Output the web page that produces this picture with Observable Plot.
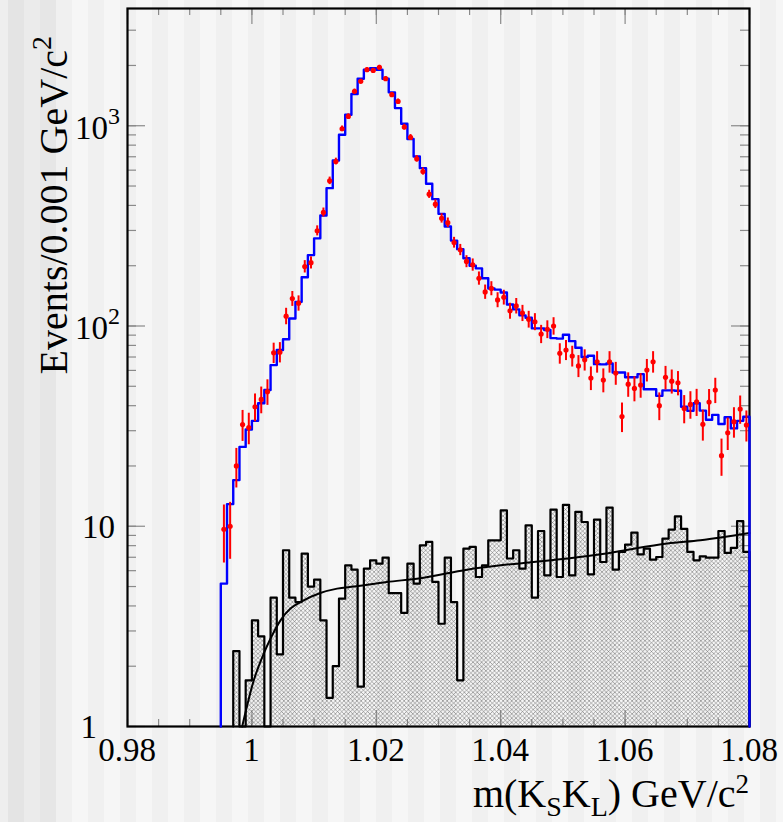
<!DOCTYPE html>
<html><head><meta charset="utf-8">
<script src="https://cdn.jsdelivr.net/npm/d3@7"></script>
<script src="https://cdn.jsdelivr.net/npm/@observablehq/plot@0.6"></script>
<style>
html,body{margin:0;padding:0;}
body{width:783px;height:822px;overflow:hidden;position:relative;
 background-color:#f6f6f6;
 background-image:linear-gradient(90deg,#f0f0f0 0,#f0f0f0 50%,#f6f6f6 50%,#f6f6f6 100%);
 background-size:32px 100%; background-position:24px 0;}
#leftband{position:absolute;left:0;top:0;width:56px;height:822px;
 background:linear-gradient(90deg,#eeeeee 0,#eeeeee 8px,#e4e4e4 8px,#e4e4e4 24px,#ebebeb 24px,#ebebeb 40px,#e6e6e6 40px,#e6e6e6 56px);}
#chart{position:absolute;left:0;top:0;}
</style></head><body><div id="leftband"></div><div id="chart"></div>
<script>
// ---- data ----
const binWidth = 0.001;
const xDomain = [0.98, 1.08];
const yDomain = [1, 3850];
const xMajorTicks = [0.98, 1.0, 1.02, 1.04, 1.06, 1.08];
const xTickLabels = ["0.98", "1", "1.02", "1.04", "1.06", "1.08"];
const yMajorTicks = [1, 10, 100, 1000];
const yTickBase = ["1", "10", "10", "10"];
const yTickExp = ["", "", "2", "3"];

// MC (blue histogram), bins of 0.001 starting at 0.995
const mcStart = 0.995;
const mcCounts = [5.17, 12.9, 17.0, 24.9, 30.4, 33.6, 41.1, 47.9, 63.8, 75.9,
  85.8, 109, 132, 175, 226, 274, 356, 488, 671, 902,
  1135, 1440, 1718, 1905, 1940, 1905, 1718, 1468, 1225, 1023,
  858, 702, 614, 513, 430, 363, 314, 267, 242, 218,
  200, 194, 173, 154, 152, 147, 128, 121, 113, 110,
  97.3, 97.3, 95.5, 87.0, 86.5, 90.4, 84.0, 77.9, 70.0, 71.0,
  64.5, 64.3, 65.0, 58.6, 58.6, 55.5, 55.5, 57.5, 48.3, 48.3,
  44.8, 47.7, 47.7, 47.5, 39.5, 37.7, 41.1, 37.8, 34.0, 36.0,
  32.4, 35.0, 30.8, 33.6, 35.2];

// Data (red points), bin centres starting at 0.9955
const dataStart = 0.995;
const dataCounts = [9.66, 10.0, 20.0, 32.2, 31.1, 39.5, 43.0, 47.0, 73.5, 74.0,
  112, 137, 130, 198, 207, 299, 369, 531, 663, 966,
  1113, 1485, 1666, 1905, 1890, 1958, 1718, 1429, 1323, 985,
  874, 684, 591, 455, 406, 345, 328, 261, 240, 210,
  202, 173, 148, 154, 135, 139, 119, 126, 116, 108,
  105, 91.2, 96.3, 100, 73.0, 75.9, 70.8, 63.2, 67.8, 55.0,
  66.3, 53.7, 66.3, 58.2, 35.3, 51.2, 48.8, 50.7, 60.3, 66.3,
  40.0, 55.4, 53.0, 52.0, 38.7, 40.6, 41.8, 32.3, 41.7, 47.9,
  22.5, 29.3, 33.3, 38.5, 32.0];

// Background (black hatched histogram), bins starting at 0.997 (0 = empty bin)
const bkgStart = 0.997;
const bkgCounts = [2.38, 0, 1.70, 3.39, 2.82, 0, 4.40, 2.29, 7.59, 4.40,
  4.18, 7.30, 5.00, 5.41, 3.39, 1.39, 2.00, 4.35, 6.38, 6.07,
  1.58, 6.15, 6.76, 6.50, 6.97, 4.64, 4.64, 3.69, 6.50, 5.17,
  8.03, 8.35, 5.27, 3.26, 6.97, 4.18, 1.70, 7.73, 7.88, 5.58,
  6.38, 8.51, 8.51, 12.0, 6.90, 7.59, 6.15, 10.1, 4.40, 9.47,
  5.69, 12.1, 5.58, 12.8, 5.69, 11.8, 10.5, 5.75, 10.8, 6.63,
  12.4, 6.07, 7.44, 8.10, 9.30, 7.24, 7.73, 6.81, 7.02, 8.67,
  9.62, 11.2, 9.70, 7.44, 6.76, 7.08, 6.97, 6.97, 9.47, 7.36,
  7.80, 10.6, 7.44];

// Background fit curve (black smooth line)
const fitX = [0.99844, 1.0003, 1.0019, 1.0030, 1.0046, 1.0062, 1.0078, 1.0110, 1.0137, 1.0164,
  1.0217, 1.0271, 1.0346, 1.0400, 1.0453, 1.0507, 1.0561, 1.0614, 1.0668, 1.0721, 1.0800];
const fitY = [1.0, 1.70, 2.31, 2.75, 3.39, 3.88, 4.18, 4.64, 4.88, 5.0,
  5.27, 5.50, 6.07, 6.38, 6.63, 6.90, 7.24, 7.73, 8.19, 8.51, 9.25];

// ---- build series ----
function stepPoints(start, counts) {
  const pts = [{x: start, y: 1}];
  counts.forEach((c, i) => pts.push({x: start + i * binWidth, y: Math.max(c, 1)}));
  const end = start + counts.length * binWidth;
  pts.push({x: end, y: Math.max(counts[counts.length - 1], 1)});
  pts.push({x: end, y: 1});
  return pts;
}
const mcSteps = stepPoints(mcStart, mcCounts);
const bkgSteps = stepPoints(bkgStart, bkgCounts);
const dataPts = dataCounts.map((c, i) => ({
  x: dataStart + (i + 0.5) * binWidth, y: c,
  lo: c - Math.sqrt(c), hi: c + Math.sqrt(c)
}));
const fitPts = fitX.map((x, i) => ({x, y: fitY[i]}));

const xMinorTicks = d3.range(0, 21).map(i => 0.98 + i * 0.005);
const yMinorTicks = [];
[1, 10, 100, 1000].forEach(d => { for (let k = 1; k <= 9; k++) if (d * k <= yDomain[1]) yMinorTicks.push(d * k); });

const W = 783, H = 822, mL = 127, mR = 34, mT = 8, mB = 96;
const pW = W - mL - mR, pH = H - mT - mB;
const tickColor = "#8a8a8a";

const plot = Plot.plot({
  width: W, height: H,
  marginLeft: mL, marginRight: mR, marginTop: mT, marginBottom: mB,
  x: {domain: xDomain, axis: null},
  y: {type: "log", domain: yDomain, axis: null},
  style: {background: "transparent", overflow: "visible"},
  marks: [
    // ticks (inward, all four sides)
    Plot.ruleX(xMinorTicks, {x: d => d, insetTop: pH - 7, stroke: tickColor, strokeWidth: 1.2}),
    Plot.ruleX(xMinorTicks, {x: d => d, insetBottom: pH - 7, stroke: tickColor, strokeWidth: 1.2}),
    Plot.ruleX(xMajorTicks, {x: d => d, insetTop: pH - 16, stroke: tickColor, strokeWidth: 1.2}),
    Plot.ruleX(xMajorTicks, {x: d => d, insetBottom: pH - 16, stroke: tickColor, strokeWidth: 1.2}),
    Plot.ruleY(yMinorTicks, {y: d => d, insetRight: pW - 9, stroke: tickColor, strokeWidth: 1.2}),
    Plot.ruleY(yMinorTicks, {y: d => d, insetLeft: pW - 9, stroke: tickColor, strokeWidth: 1.2}),
    Plot.ruleY(yMajorTicks, {y: d => d, insetRight: pW - 18, stroke: tickColor, strokeWidth: 1.2}),
    Plot.ruleY(yMajorTicks, {y: d => d, insetLeft: pW - 18, stroke: tickColor, strokeWidth: 1.2}),
    Plot.frame({stroke: "black", strokeWidth: 2.2}),
    // background histogram (hatched)
    Plot.areaY(bkgSteps, {x: "x", y1: () => 1, y2: "y", curve: "step-after", fill: "url(#hatch)"}),
    Plot.line(bkgSteps, {x: "x", y: "y", curve: "step-after", stroke: "black", strokeWidth: 2.2}),
    // fit curve
    Plot.line(fitPts, {x: "x", y: "y", curve: "monotone-x", stroke: "black", strokeWidth: 2}),
    // MC histogram
    Plot.line(mcSteps, {x: "x", y: "y", curve: "step-after", stroke: "#0000ff", strokeWidth: 2.4}),
    // data points with errors
    Plot.ruleX(dataPts, {x: "x", y1: "lo", y2: "hi", stroke: "#ff0000", strokeWidth: 2}),
    Plot.dot(dataPts, {x: "x", y: "y", r: 2.6, fill: "#ff0000", stroke: "none"})
  ]
});

// hatch pattern
const svg = d3.select(plot);
const defs = svg.insert("defs", ":first-child");
const pat = defs.append("pattern").attr("id", "hatch").attr("patternUnits", "userSpaceOnUse")
  .attr("width", 4.3).attr("height", 4.3);
pat.append("path").attr("d", "M-1,-1 L5.3,5.3 M5.3,-1 L-1,5.3")
  .attr("stroke", "#606060").attr("stroke-width", 0.5).attr("fill", "none");

const sx = plot.scale("x"), sy = plot.scale("y");
const font = "'Liberation Serif', 'Times New Roman', serif";
const g = svg.append("g").attr("font-family", font).attr("fill", "black");

// x tick labels
xMajorTicks.forEach((v, i) => {
  g.append("text").attr("x", sx.apply(v)).attr("y", 761).attr("text-anchor", "middle")
    .attr("font-size", 33).text(xTickLabels[i]);
});
// y tick labels
yMajorTicks.forEach((v, i) => {
  const t = g.append("text").attr("text-anchor", "end").attr("font-size", 33);
  if (yTickExp[i]) {
    t.attr("x", 120).attr("y", sy.apply(v) + 14);
    t.append("tspan").text(yTickBase[i]);
    t.append("tspan").attr("dy", -15).attr("font-size", 24).text(yTickExp[i]);
  } else if (v === 1) {
    t.attr("x", 97).attr("y", sy.apply(v) + 12).text(yTickBase[i]);
  } else {
    t.attr("x", 115).attr("y", sy.apply(v) + 12).text(yTickBase[i]);
  }
});
// x title
const xt = g.append("text").attr("x", 749).attr("y", 807).attr("text-anchor", "end").attr("font-size", 40);
xt.append("tspan").text("m(K");
xt.append("tspan").attr("dy", 9).attr("font-size", 28).text("S");
xt.append("tspan").attr("dy", -9).text("K");
xt.append("tspan").attr("dy", 9).attr("font-size", 28).text("L");
xt.append("tspan").attr("dy", -9).text(") GeV/c");
xt.append("tspan").attr("dy", -14).attr("font-size", 27).text("2");
// y title
const yt = g.append("text").attr("transform", "translate(67,36) rotate(-90)").attr("text-anchor", "end").attr("font-size", 40);
yt.append("tspan").text("Events/0.001 GeV/c");
yt.append("tspan").attr("dy", -16).attr("font-size", 28).text("2");

document.getElementById("chart").appendChild(plot);
</script></body></html>
